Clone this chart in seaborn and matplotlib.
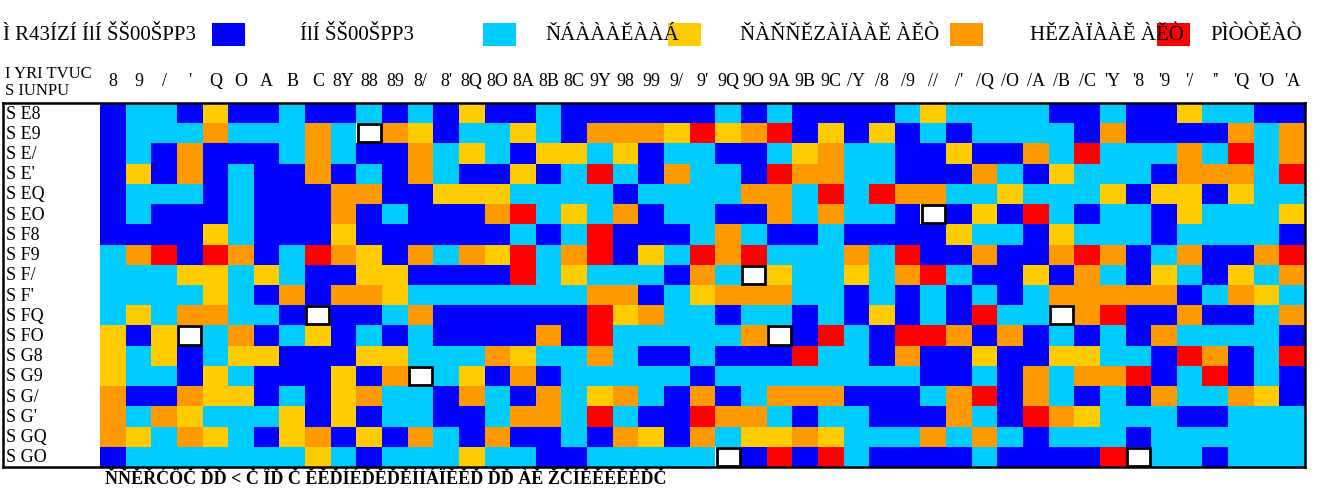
import numpy as np
import pandas as pd
import matplotlib
matplotlib.use("Agg")
import matplotlib.pyplot as plt
from matplotlib.colors import ListedColormap
from matplotlib.patches import Rectangle
import seaborn as sns

# legend (levels go dark blue -> red), text as it appears in the picture
legend_title = "Ì R43ÍZÍ ÍlÍ ŠŠ00ŠPP3"
level_names = ["ÍlÍ ŠŠ00ŠPP3", "ŇÁÀÀÀĚÀÀÁ", "ŇÀŇŇĚZÀÏÀÀĚ ÀĚÒ", "HĚZÀÏÀÀĚ ÀĚÒ", "PÌÒÒĚÀÒ"]
level_colors = ["#0000ff", "#00ccff", "#ffcc00", "#ff9900", "#ff0000"]

corner_label = "I YRI TVUC\nS IUNPU"
row_labels = ["S E8", "S E9", "S E/", "S E'", "S EQ", "S EO",
              "S F8", "S F9", "S F/", "S F'", "S FQ", "S FO",
              "S G8", "S G9", "S G/", "S G'", "S GQ", "S GO"]
col_labels = ["8", "9", "/", "'", "Q", "O", "A", "B", "C",
              "8Y", "88", "89", "8/", "8'", "8Q", "8O", "8A", "8B", "8C",
              "9Y", "98", "99", "9/", "9'", "9Q", "9O", "9A", "9B", "9C",
              "/Y", "/8", "/9", "//", "/'", "/Q", "/O", "/A", "/B", "/C",
              "'Y", "'8", "'9", "'/", "''", "'Q", "'O", "'A"]

# one string per row, one char per column: 0-4 = level, "." = empty cell
rows = [
    "0110200100101020" "0100000010100001" "211110010021100",
    "0111311131.32011" "2103332423402020" "101111030000313",
    "0103000131003121" "0221201100123110" "020031411131413",
    "0203010030103100" "2014103110433110" "003102111033314",
    "0111010003300222" "1111011113314143" "311211120220211",
    "0100010003010003" "4121301100313110" ".02041011021112",
    "0000210002000000" "1014000131001000" "021102111011110",
    "1340430143203132" "4134021434111314" "003003430130034",
    "1112212100220000" "412111031.211213" "410020310210213",
    "1111210303321111" "1113301233311010" "101013333301321",
    "12133110.0013000" "0004231101101020" "10411.340030013",
    "202.130120101000" "0304111113.04104" "430301010311110",
    "2120122000221113" "2113100100041103" "002002211043014",
    "211021000203.120" "3011111011111111" "001031334014010",
    "3003220102311031" "0312310301333000" "134031010311320",
    "3132111202011001" "3314100433101100" "031043211100111",
    "3213210230203103" "0010320312232111" "313101110111111",
    "0111111121011121" "10011111.0404100" "00100004.110111",
]

footnote = "ŇŇĚŘĆÖČ ĎĎ < Č ÎĎ Č ĚĚĎÍÉĎĚĎĚÍÌÁÏĚĚĎ ĎĎ ÀĚ ŽČÍĚĚĚĚĚĎČ"

grid = [[np.nan if ch == "." else int(ch) for ch in r] for r in rows]
df = pd.DataFrame(grid, index=row_labels, columns=col_labels)

W, H = 1323, 489
plt.rcParams["font.family"] = ["Liberation Serif", "DejaVu Serif"]

fig = plt.figure(figsize=(W / 100, H / 100), dpi=100)
ax = fig.add_axes([3 / W, 1 - 468 / H, (1305 - 3) / W, (468 - 104) / H])

cmap = ListedColormap(level_colors)
sns.heatmap(df, cmap=cmap, vmin=-0.5, vmax=4.5, cbar=False, ax=ax,
            xticklabels=col_labels, yticklabels=False)

# white strip on the left for the row names, inside the frame
cell_w = (1305 - 100) / len(col_labels)
ax.set_xlim(-97 / cell_w, len(col_labels))
ax.set_ylim(len(row_labels), 0)
ax.set_xlabel("")
ax.set_ylabel("")
ax.xaxis.tick_top()
ax.tick_params(axis="x", length=0, pad=10, labelsize=13, labelrotation=0)
for s in ax.spines.values():
    s.set_visible(True)
    s.set_linewidth(1.8)

for i, lab in enumerate(row_labels):
    ax.text(-94 / cell_w, i + 0.5, lab, ha="left", va="center", fontsize=13)

# empty cells: white boxes with black edge
for r, c in np.argwhere(df.isna().values):
    ax.add_patch(Rectangle((c + 0.05, r + 0.05), 0.9, 0.9, facecolor="white",
                           edgecolor="black", lw=2))

fig.text(5 / W, 1 - 66 / H, corner_label, ha="left", va="top", fontsize=12,
         linespacing=1.1)

# legend row
fig.text(3 / W, 1 - 35 / H, legend_title, ha="left", va="center", fontsize=15)
patch_x = [212, 483, 668, 950, 1157]
label_x = [300, 545, 740, 1030, 1210]
for px, lx, name, col in zip(patch_x, label_x, level_names, level_colors):
    fig.patches.append(Rectangle((px / W, 1 - 47 / H), 33 / W, 23 / H,
                                 transform=fig.transFigure, facecolor=col,
                                 edgecolor="none"))
    fig.text(lx / W, 1 - 35 / H, name, ha="left", va="center", fontsize=15)

fig.text(105 / W, 1 - 488 / H, footnote, ha="left", va="bottom", fontsize=13,
         fontweight="bold")

fig.savefig("out.png", dpi=100)
